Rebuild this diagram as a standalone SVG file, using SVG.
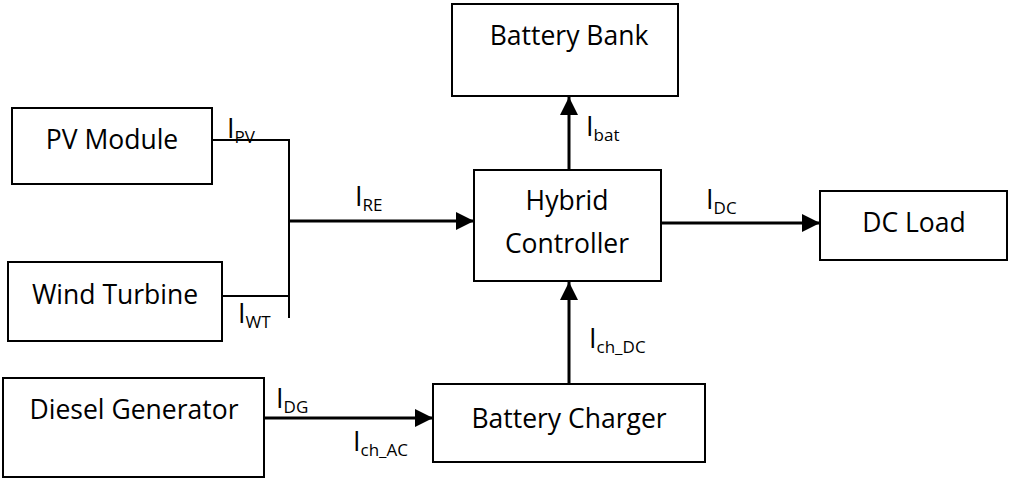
<svg xmlns="http://www.w3.org/2000/svg" width="1009" height="479" viewBox="0 0 1009 479">
<style>
.box{fill:#fff;stroke:#000;stroke-width:2}
.t{font-family:"Open Sans","Liberation Sans",sans-serif;font-size:26.5px;fill:#000;text-anchor:middle}
.l{font-family:"Open Sans","Liberation Sans",sans-serif;font-size:27px;fill:#000}
.s{font-size:17px}
.w{fill:none;stroke:#000;stroke-width:2}
.a{fill:none;stroke:#000;stroke-width:3;marker-end:url(#ah)}
</style>
<defs>
<marker id="ah" markerWidth="6" markerHeight="6" refX="6" refY="3" orient="auto" markerUnits="strokeWidth">
<path d="M0,0 L6,3 L0,6 Z" fill="#000"/>
</marker>
</defs>
<g id="connectors">
<polyline class="w" points="212,140 289,140"/>
<polyline class="w" points="222,296 289,296"/>
<line class="w" x1="289" y1="139" x2="289" y2="318"/>
<line class="a" x1="289" y1="221" x2="474" y2="221"/>
<line class="a" x1="569" y1="184" x2="569" y2="97"/>
<line class="a" x1="661" y1="223" x2="820" y2="223"/>
<line class="a" x1="569" y1="384" x2="569" y2="282"/>
<line class="a" x1="264" y1="418" x2="433" y2="418"/>
<text class="l" x="227" y="138">I<tspan class="s" dy="5">PV</tspan></text>
<text class="l" x="238" y="323">I<tspan class="s" dy="5">WT</tspan></text>
<text class="l" x="355" y="206">I<tspan class="s" dy="5">RE</tspan></text>
<text class="l" x="586" y="136">I<tspan class="s" dy="5">bat</tspan></text>
<text class="l" x="706" y="209">I<tspan class="s" dy="5">DC</tspan></text>
<text class="l" x="589" y="348">I<tspan class="s" dy="5">ch_DC</tspan></text>
<text class="l" x="276" y="408">I<tspan class="s" dy="5">DG</tspan></text>
<text class="l" x="353" y="451">I<tspan class="s" dy="5">ch_AC</tspan></text>
</g>
<g id="pv"><rect class="box" x="12" y="108" width="200" height="76"/><text class="t" x="112" y="149">PV Module</text></g>
<g id="wind"><rect class="box" x="8" y="262" width="214" height="79"/><text class="t" x="115" y="304">Wind Turbine</text></g>
<g id="diesel"><rect class="box" x="3" y="378" width="261" height="99"/><text class="t" x="134" y="419">Diesel Generator</text></g>
<g id="bank"><rect class="box" x="452" y="4" width="226" height="92"/><text class="t" x="569" y="45">Battery Bank</text></g>
<g id="controller"><rect class="box" x="474" y="170" width="187" height="111"/><text class="t" x="567" y="210">Hybrid</text><text class="t" x="567" y="253">Controller</text></g>
<g id="dcload"><rect class="box" x="820" y="191" width="187" height="69"/><text class="t" x="914" y="232">DC Load</text></g>
<g id="charger"><rect class="box" x="433" y="384" width="272" height="78"/><text class="t" x="569" y="428">Battery Charger</text></g>
</svg>
